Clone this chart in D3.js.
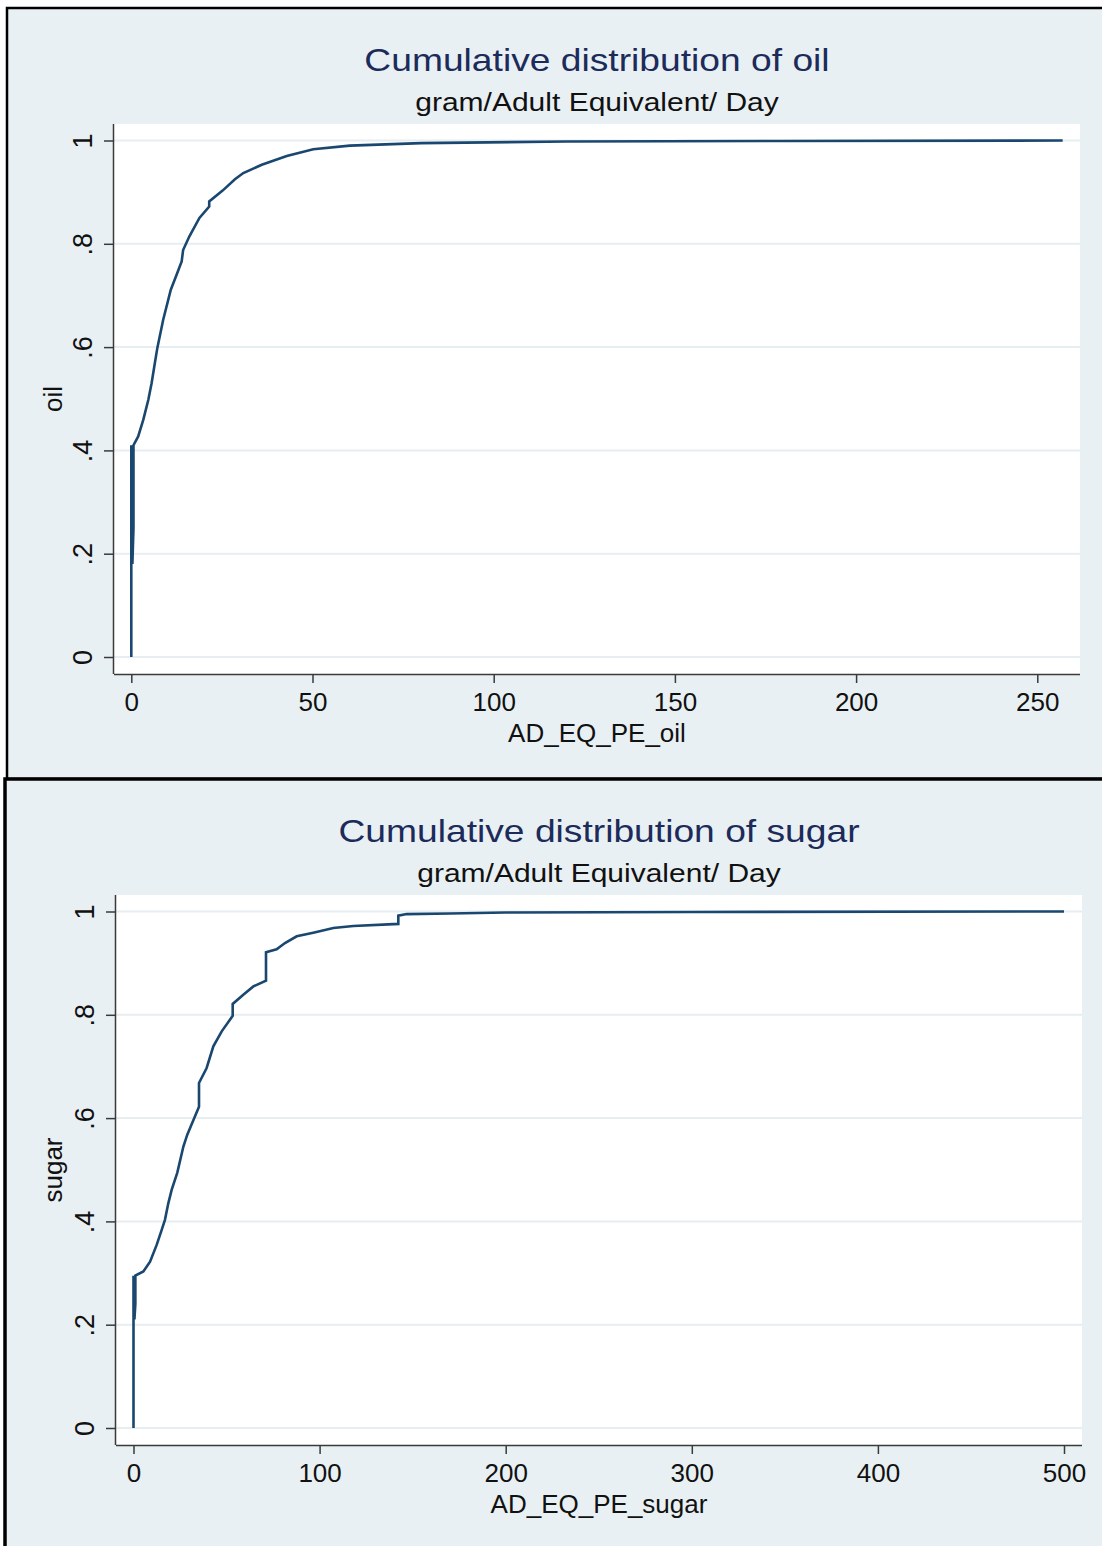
<!DOCTYPE html>
<html>
<head>
<meta charset="utf-8">
<script src="https://cdn.jsdelivr.net/npm/d3@7"></script>
<style>
  body { margin: 0; background: #ffffff; }
  text { font-family: "Liberation Sans", Arial, sans-serif; }
</style>
</head>
<body>
<script>
var width = 1102;
var height = 1546;

var bgColor = "#e9f0f3";
var lineColor = "#1a476f";
var titleColor = "#1c2b5a";

// oil: cumulative share vs grams per adult equivalent per day
var oilX = [0, 0, 0.3, 0.6, 0.6, 0.6, 1.9, 3.3, 4.7, 5.6, 6.4, 7.2, 8.8, 10.9, 12.5, 13.9, 14.3, 16, 18.8, 21.5, 21.5, 25.2, 28.6, 30.9, 36, 42.9, 50.2, 60.3, 80, 120, 180, 257];
var oilY = [0, 0.41, 0.18, 0.25, 0.33, 0.41, 0.427, 0.459, 0.498, 0.53, 0.565, 0.599, 0.653, 0.711, 0.74, 0.766, 0.788, 0.814, 0.85, 0.872, 0.882, 0.903, 0.925, 0.937, 0.953, 0.970, 0.983, 0.990, 0.995, 0.998, 0.999, 1];

// sugar
var sugarX = [0, 0, 0.5, 1, 1, 5.3, 8.9, 12.5, 15.2, 16.9, 18.7, 20.5, 23.5, 26.8, 28.9, 33, 35.2, 35.2, 39.3, 42.9, 47.4, 53.3, 53.3, 59, 64.4, 71.2, 71.2, 76.9, 81.4, 87.7, 96.6, 107.4, 118.1, 142.3, 142.3, 146.8, 170, 200, 300, 500];
var sugarY = [0, 0.295, 0.21, 0.24, 0.295, 0.303, 0.322, 0.355, 0.384, 0.403, 0.435, 0.461, 0.494, 0.545, 0.568, 0.603, 0.622, 0.668, 0.697, 0.739, 0.768, 0.798, 0.821, 0.839, 0.855, 0.866, 0.921, 0.927, 0.939, 0.952, 0.959, 0.968, 0.972, 0.976, 0.992, 0.995, 0.996, 0.998, 0.999, 1];

var yTicks = [0, 0.2, 0.4, 0.6, 0.8, 1];
var yTickLabels = ["0", ".2", ".4", ".6", ".8", "1"];
var oilXTicks = [0, 50, 100, 150, 200, 250];
var sugarXTicks = [0, 100, 200, 300, 400, 500];

var svg = d3.select("body")
  .append("svg")
  .attr("width", width)
  .attr("height", height);

// panel frames
svg.append("rect")
  .attr("x", 7).attr("y", 8)
  .attr("width", 1110).attr("height", 771)
  .attr("fill", bgColor)
  .attr("stroke", "#000").attr("stroke-width", 2.5);

svg.append("rect")
  .attr("x", 5).attr("y", 779)
  .attr("width", 1110).attr("height", 800)
  .attr("fill", bgColor)
  .attr("stroke", "#000").attr("stroke-width", 3.5);

function drawPanel(top, left, xs, ys, xDomain, xRange, xTicks, title, yTitle, xTitle) {
  var plotLeft = left, plotRight = left + 966;
  var plotTop = top + 116, plotBottom = top + 666;

  var x = d3.scaleLinear().domain(xDomain).range(xRange);
  var y = d3.scaleLinear().domain([0, 1]).range([plotTop + 533, plotTop + 16.5]);

  var g = svg.append("g");

  g.append("rect")
    .attr("x", plotLeft).attr("y", plotTop)
    .attr("width", plotRight - plotLeft).attr("height", plotBottom - plotTop)
    .attr("fill", "#fff");

  // gridlines
  g.selectAll("line.grid")
    .data(yTicks)
    .enter()
    .append("line")
    .attr("class", "grid")
    .attr("x1", plotLeft).attr("x2", plotRight)
    .attr("y1", function(d) { return y(d); })
    .attr("y2", function(d) { return y(d); })
    .attr("stroke", "#e6eef1")
    .attr("stroke-width", 2);

  // x axis
  var xAxis = d3.axisBottom(x).tickValues(xTicks).tickSize(9).tickPadding(10);
  var xg = g.append("g")
    .attr("transform", "translate(0," + plotBottom + ")")
    .call(xAxis);
  xg.select(".domain").attr("d", "M" + plotLeft + ",0.5H" + plotRight).attr("stroke", "#3a3a3a").attr("stroke-width", 1.5);
  xg.selectAll(".tick line").attr("stroke", "#3a3a3a").attr("stroke-width", 1.5);
  xg.selectAll(".tick text")
    .attr("fill", "#111")
    .style("font-size", "26px")
    .style("font-family", "Liberation Sans, Arial, sans-serif");

  // y axis
  var yAxis = d3.axisLeft(y).tickValues(yTicks).tickSize(10)
    .tickFormat(function(d, i) { return yTickLabels[i]; });
  var yg = g.append("g")
    .attr("transform", "translate(" + plotLeft + ",0)")
    .call(yAxis);
  yg.select(".domain").attr("d", "M-0.5," + plotTop + "V" + plotBottom).attr("stroke", "#3a3a3a").attr("stroke-width", 1.5);
  yg.selectAll(".tick line").attr("stroke", "#3a3a3a").attr("stroke-width", 1.5);
  yg.selectAll(".tick text")
    .attr("fill", "#111")
    .attr("x", 0).attr("dy", null)
    .attr("text-anchor", "middle")
    .attr("transform", "translate(-22,0) rotate(-90)")
    .style("font-size", "27px")
    .style("font-family", "Liberation Sans, Arial, sans-serif");

  // curve
  var pts = xs.map(function(v, i) { return [v, ys[i]]; });
  var line = d3.line()
    .x(function(d) { return x(d[0]); })
    .y(function(d) { return y(d[1]); });
  g.append("path")
    .datum(pts)
    .attr("d", line)
    .attr("fill", "none")
    .attr("stroke", lineColor)
    .attr("stroke-width", 2.6)
    .attr("stroke-linejoin", "miter");

  var cx = (plotLeft + plotRight) / 2;

  // titles are drawn a bit wide, like the original
  g.append("text")
    .attr("transform", "translate(" + cx + "," + (top + 63) + ") scale(1.22,1)")
    .attr("text-anchor", "middle")
    .attr("fill", titleColor)
    .style("font-size", "30.5px")
    .text(title);

  g.append("text")
    .attr("transform", "translate(" + cx + "," + (top + 103) + ") scale(1.2,1)")
    .attr("text-anchor", "middle")
    .attr("fill", "#111")
    .style("font-size", "25px")
    .text("gram/Adult Equivalent/ Day");

  g.append("text")
    .attr("x", cx).attr("y", plotBottom + 68)
    .attr("text-anchor", "middle")
    .attr("fill", "#111")
    .style("font-size", "26px")
    .text(xTitle);

  g.append("text")
    .attr("transform", "translate(62," + ((plotTop + plotBottom) / 2) + ") rotate(-90)")
    .attr("text-anchor", "middle")
    .attr("fill", "#111")
    .style("font-size", "26px")
    .text(yTitle);
}

drawPanel(8, 114, oilX, oilY, [0, 250], [131.3, 1037.3], oilXTicks,
  "Cumulative distribution of oil", "oil", "AD_EQ_PE_oil");
drawPanel(779, 116, sugarX, sugarY, [0, 500], [133.5, 1064], sugarXTicks,
  "Cumulative distribution of sugar", "sugar", "AD_EQ_PE_sugar");
</script>
</body>
</html>
